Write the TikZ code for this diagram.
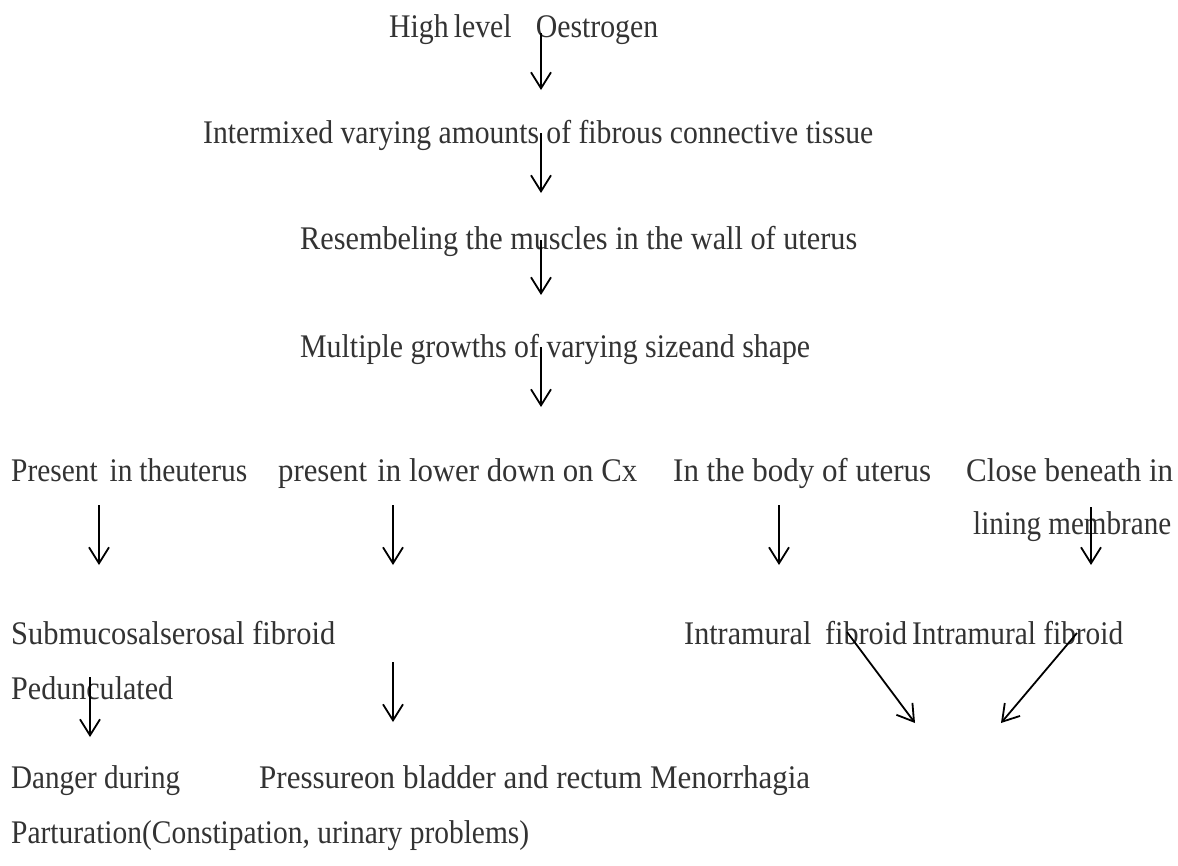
\documentclass[tikz,border=0pt]{standalone}
\usepackage{fontspec}
\setmainfont{Liberation Serif}[FakeStretch=0.9]
\usetikzlibrary{arrows.meta}
\definecolor{txt}{HTML}{333333}
\newsavebox{\fitbox}
\newcommand{\fitw}[2]{\sbox{\fitbox}{#2}\resizebox{#1pt}{\ht\fitbox}{\usebox{\fitbox}}}
\begin{document}
\begin{tikzpicture}[x=1pt,y=-1pt,
  lbl/.style={anchor=base west, inner sep=0pt, text=txt, font=\fontsize{33}{36}\selectfont},
  arr/.style={draw=black, line width=1.8pt, -{Straight Barb[length=16pt,width=20pt,line width=1.8pt]}}]
\useasboundingbox[fill=white] (0,0) rectangle (1178,865);
% texts
\node[lbl] (t1) at (389,37) {\fitw{269}{High\hspace{5pt}level\hspace{24pt}Oestrogen}};
\node[lbl] (t2) at (203,143) {\fitw{670}{Intermixed varying amounts of fibrous connective tissue}};
\node[lbl] (t3) at (300,249) {\fitw{557}{Resembeling the muscles in the wall of uterus}};
\node[lbl] (t4) at (300,357) {\fitw{510}{Multiple growths of varying sizeand shape}};
\node[lbl] (p1) at (11,481) {\fitw{236}{Present\hspace{12pt}in\hspace{7pt}theuterus}};
\node[lbl] (p2) at (278,481) {\fitw{359}{present\hspace{10pt}in lower down on Cx}};
\node[lbl] (p3) at (673,481) {\fitw{258}{In the body of uterus}};
\node[lbl] (p4) at (966,481) {\fitw{207}{Close beneath in}};
\node[lbl] (p4b) at (973,534) {\fitw{198}{lining membrane}};
\node[lbl] (s1) at (11,644) {\fitw{324}{Submucosalserosal fibroid}};
\node[lbl] (s1b) at (11,699) {\fitw{162}{Pedunculated}};
\node[lbl] (s3) at (684,644) {\fitw{223}{Intramural\hspace{6pt} fibroid}};
\node[lbl] (s4) at (912,644) {\fitw{211}{Intramural fibroid}};
\node[lbl] (d1) at (11,788) {\fitw{169}{Danger during}};
\node[lbl] (d1b) at (11,843) {\fitw{518}{Parturation(Constipation, urinary problems)}};
\node[lbl] (d2) at (259,788) {\fitw{551}{Pressureon bladder and rectum Menorrhagia}};
% arrow end points
\coordinate (a1s) at (541,33);  \coordinate (a1e) at (541,90);
\coordinate (a2s) at (541,133); \coordinate (a2e) at (541,193);
\coordinate (a3s) at (541,240); \coordinate (a3e) at (541,295);
\coordinate (a4s) at (541,347); \coordinate (a4e) at (541,407);
\coordinate (b1s) at (99,505);  \coordinate (b1e) at (99,565);
\coordinate (b2s) at (393,505); \coordinate (b2e) at (393,565);
\coordinate (b3s) at (779,505); \coordinate (b3e) at (779,565);
\coordinate (b4s) at (1091,507); \coordinate (b4e) at (1091,565);
\coordinate (c1s) at (90,677);  \coordinate (c1e) at (90,737);
\coordinate (c2s) at (393,662); \coordinate (c2e) at (393,722);
\coordinate (c3s) at (847,632); \coordinate (c3e) at (915,723);
\coordinate (c4s) at (1077,633); \coordinate (c4e) at (1001,723);
% arrows
\foreach \a in {a1,a2,a3,a4,b1,b2,b3,b4,c1,c2,c3,c4}
  \draw[arr] (\a s) -- (\a e);
\end{tikzpicture}
\end{document}
